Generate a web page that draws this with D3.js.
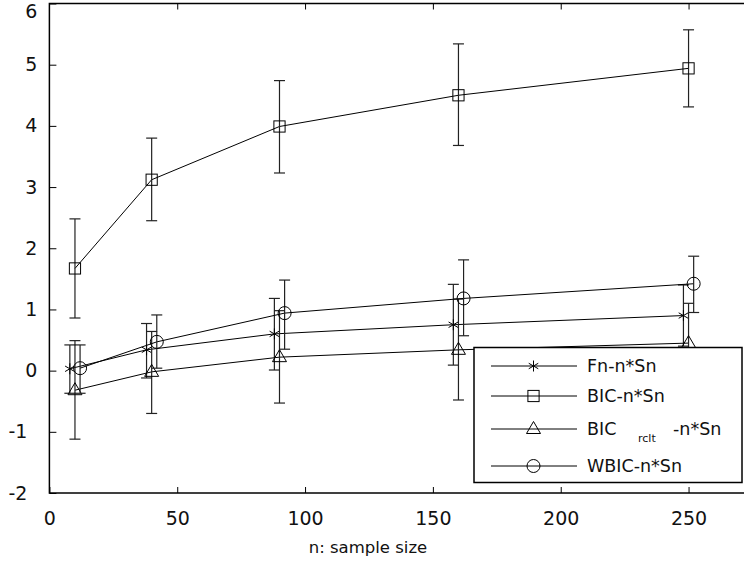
<!DOCTYPE html>
<html>
<head>
<meta charset="utf-8">
<script src="https://cdn.jsdelivr.net/npm/d3@7"></script>
<style>
  body { margin: 0; background: #fff; }
  svg { display: block; font-family: "DejaVu Sans", sans-serif; }
</style>
</head>
<body>
<script>
const width = 744;
const height = 565;

// sample sizes (each series is shifted a little so the bars don't overlap)
const nFn = [8, 38, 88, 158, 248];
const nBic = [10, 40, 90, 160, 250];
const nRclt = [10, 40, 90, 160, 250];
const nWbic = [12, 42, 92, 162, 252];

const fn = [0.03, 0.34, 0.60, 0.75, 0.90];
const fnLo = [-0.37, -0.12, 0.01, 0.09, 0.40];
const fnHi = [0.42, 0.77, 1.18, 1.41, 1.40];

const bic = [1.67, 3.12, 3.99, 4.50, 4.94];
const bicLo = [0.86, 2.45, 3.23, 3.68, 4.31];
const bicHi = [2.48, 3.80, 4.74, 5.34, 5.57];

const rclt = [-0.32, -0.02, 0.22, 0.34, 0.45];
const rcltLo = [-1.12, -0.70, -0.53, -0.48, -0.20];
const rcltHi = [0.49, 0.64, 0.98, 1.17, 1.10];

const wbic = [0.04, 0.47, 0.94, 1.18, 1.42];
const wbicLo = [-0.37, 0.04, 0.35, 0.57, 0.95];
const wbicHi = [0.42, 0.91, 1.48, 1.81, 1.87];

const xTicks = [0, 50, 100, 150, 200, 250];
const yTicks = [-2, -1, 0, 1, 2, 3, 4, 5, 6];

let svg = d3.select("body").append("svg")
  .attr("width", width)
  .attr("height", height);

let margin = { top: 3.5, left: 49.4, bottom: 493 };

// x axis runs past the right edge of the picture (figure is cropped there)
let xScale = d3.scaleLinear()
  .domain([0, 280])
  .range([margin.left, margin.left + 280 * 2.5566]);

let yScale = d3.scaleLinear()
  .domain([-2, 6])
  .range([margin.bottom, margin.top]);

// frame
svg.append("rect")
  .attr("x", xScale(0))
  .attr("y", yScale(6))
  .attr("width", xScale(280) - xScale(0))
  .attr("height", yScale(-2) - yScale(6))
  .attr("fill", "none")
  .attr("stroke", "#000")
  .attr("stroke-width", 1.5);

let plain = (d) => String(d); // hyphen minus, like the original

let bottomAxis = d3.axisBottom(xScale).tickValues(xTicks).tickSize(-6).tickPadding(19).tickFormat(plain);
let topAxis = d3.axisTop(xScale).tickValues(xTicks.slice(1)).tickSize(-6).tickFormat("");
let leftAxis = d3.axisLeft(yScale).tickValues(yTicks).tickSize(-7).tickPadding(12).tickFormat(plain);

function styleAxis(g) {
  g.attr("font-family", "DejaVu Sans").attr("font-size", 19);
  g.select(".domain").remove();
  g.selectAll(".tick line").attr("stroke", "#000").attr("stroke-width", 1);
  g.selectAll(".tick text").attr("fill", "#111");
}

svg.append("g")
  .attr("transform", `translate(0, ${yScale(-2)})`)
  .call(bottomAxis)
  .call(styleAxis);

svg.append("g")
  .attr("transform", `translate(0, ${yScale(6)})`)
  .call(topAxis)
  .call(styleAxis);

svg.append("g")
  .attr("transform", `translate(${xScale(0)}, 0)`)
  .call(leftAxis)
  .call(styleAxis)
  .call((g) => g.selectAll(".tick text")
    .filter((d) => d === 6).attr("dy", "0.74em"))
  .call((g) => g.selectAll(".tick text")
    .filter((d) => d < 0).attr("dx", -10));

svg.append("text")
  .text("n: sample size")
  .attr("x", 368)
  .attr("y", 553)
  .attr("text-anchor", "middle")
  .style("font-size", "16.5px")
  .attr("fill", "#111");

// markers
function drawMarker(g, type, cx, cy) {
  if (type === "star") {
    let r = 5.5;
    [90, 30, 150].forEach((a) => {
      let rad = (a * Math.PI) / 180;
      g.append("line")
        .attr("x1", cx - r * Math.cos(rad)).attr("y1", cy - r * Math.sin(rad))
        .attr("x2", cx + r * Math.cos(rad)).attr("y2", cy + r * Math.sin(rad))
        .attr("stroke", "#000").attr("stroke-width", 1);
    });
  } else if (type === "square") {
    g.append("rect")
      .attr("x", cx - 5.6).attr("y", cy - 5.6)
      .attr("width", 11.2).attr("height", 11.2)
      .attr("fill", "none").attr("stroke", "#000").attr("stroke-width", 1);
  } else if (type === "triangle") {
    g.append("path")
      .attr("d", `M${cx},${cy - 7.5}L${cx + 7},${cy + 4.5}L${cx - 7},${cy + 4.5}Z`)
      .attr("fill", "none").attr("stroke", "#000").attr("stroke-width", 1);
  } else {
    g.append("circle")
      .attr("cx", cx).attr("cy", cy).attr("r", 6.5)
      .attr("fill", "none").attr("stroke", "#000").attr("stroke-width", 1);
  }
}

let series = [
  { name: "Fn-n*Sn", n: nFn, v: fn, lo: fnLo, hi: fnHi, marker: "star" },
  { name: "BIC-n*Sn", n: nBic, v: bic, lo: bicLo, hi: bicHi, marker: "square" },
  { name: "BIC_rclt", n: nRclt, v: rclt, lo: rcltLo, hi: rcltHi, marker: "triangle" },
  { name: "WBIC-n*Sn", n: nWbic, v: wbic, lo: wbicLo, hi: wbicHi, marker: "circle" },
];

let line = d3.line().x((d) => xScale(d[0])).y((d) => yScale(d[1]));

series.forEach((s) => {
  let pts = s.n.map((n, i) => [n, s.v[i], s.lo[i], s.hi[i]]);
  let g = svg.append("g");

  g.append("path")
    .attr("d", line(pts))
    .attr("fill", "none")
    .attr("stroke", "#000")
    .attr("stroke-width", 1);

  pts.forEach((p) => {
    let x = xScale(p[0]);
    g.append("line")
      .attr("x1", x).attr("x2", x)
      .attr("y1", yScale(p[2])).attr("y2", yScale(p[3]))
      .attr("stroke", "#222").attr("stroke-width", 1.2);
    [p[2], p[3]].forEach((v) => {
      g.append("line")
        .attr("x1", x - 5.5).attr("x2", x + 5.5)
        .attr("y1", yScale(v)).attr("y2", yScale(v))
        .attr("stroke", "#222").attr("stroke-width", 1.2);
    });
    drawMarker(g, s.marker, x, yScale(p[1]));
  });
});

// legend
let legend = svg.append("g");
legend.append("rect")
  .attr("x", 474).attr("y", 347.5)
  .attr("width", 268).attr("height", 135)
  .attr("fill", "#fff")
  .attr("stroke", "#000")
  .attr("stroke-width", 1.5);

let rowY = [366, 396, 429, 466];
series.forEach((s, i) => {
  let y = rowY[i];
  legend.append("line")
    .attr("x1", 491).attr("x2", 577)
    .attr("y1", y).attr("y2", y)
    .attr("stroke", "#000").attr("stroke-width", 1);
  drawMarker(legend, s.marker, 533.5, y);

  let t = legend.append("text")
    .attr("x", 587)
    .attr("y", y + 6)
    .style("font-size", "17.5px")
    .attr("fill", "#111");
  if (s.marker === "triangle") {
    t.append("tspan").text("BIC");
    t.append("tspan").attr("x", 638).attr("dy", 7).style("font-size", "11px").text("rclt");
    t.append("tspan").attr("x", 673).attr("dy", -7).text("-n*Sn");
  } else {
    t.text(s.name);
  }
});
</script>
</body>
</html>
